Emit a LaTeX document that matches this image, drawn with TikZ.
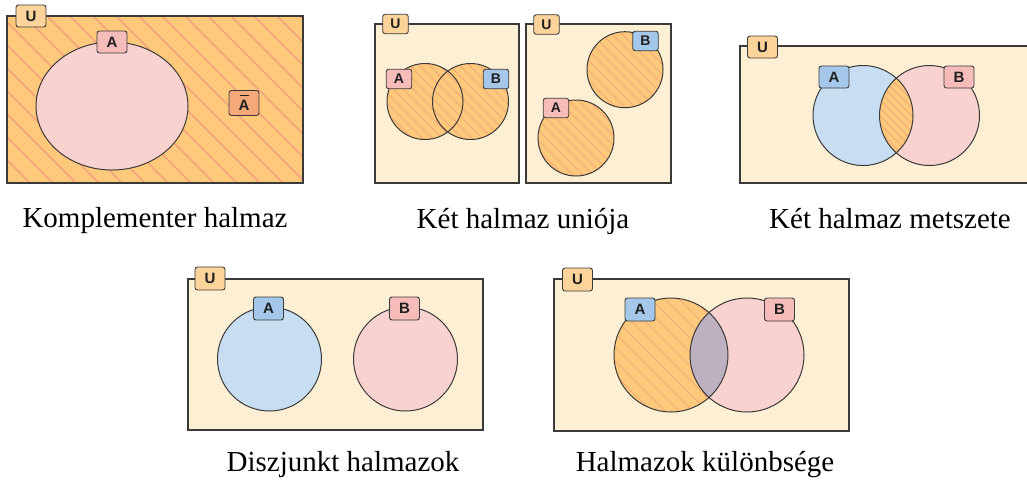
\documentclass[tikz,border=0pt]{standalone}
\usepackage{fontspec}
\setmainfont{Liberation Serif}
\newfontfamily\tabfont{Liberation Sans}
\definecolor{cream}{HTML}{FDEFD3}
\definecolor{orangef}{HTML}{FEC97A}
\definecolor{hatchc}{HTML}{F39A7E}
\definecolor{pinkf}{HTML}{F8D2CE}
\definecolor{bluef}{HTML}{C7DEF2}
\definecolor{tabpink}{HTML}{F6BCBA}
\definecolor{tabblue}{HTML}{A5C8EA}
\definecolor{tabU}{HTML}{FDD39C}
\definecolor{tabAbar}{HTML}{F5A97A}
\definecolor{grayf}{HTML}{BDB0BF}
\definecolor{edge}{HTML}{3A3A3A}
\newcommand{\hatchlines}[6]{%
  \pgfmathsetmacro{\hatchH}{#5-#3}%
  \pgfmathsetmacro{\hatchS}{#2-\hatchH}%
  \pgfmathsetmacro{\hatchN}{#2-\hatchH+#1}%
  \foreach \t in {\hatchS,\hatchN,...,#4} {\draw[hatchc,line width=#6] (\t,#3) -- ++(\hatchH,\hatchH);}%
}
\begin{document}
\begin{tikzpicture}[x=1pt,y=-1pt,
  univ/.style={draw=edge,line width=1.1pt},
  setline/.style={draw=edge,line width=1pt},
  labelbox/.style={draw=edge,line width=0.9pt,rounded corners=2.5pt,minimum width=30pt,minimum height=22pt,inner sep=0pt,text=black!88,font={\tabfont\bfseries\fontsize{15}{16}\selectfont}},
  smallbox/.style={labelbox,minimum width=25.5pt,minimum height=19.5pt,font={\tabfont\bfseries\fontsize{14}{15}\selectfont}},
  caption/.style={anchor=base,font=\fontsize{29}{34}\selectfont,inner sep=0pt}]
\useasboundingbox (0,0) rectangle (1027,480);

% ---------- Panel 1: complement ----------
\fill[orangef] (7,16) rectangle (303,183);
\begin{scope}
  \clip (7,16) rectangle (303,183);
  \hatchlines{23}{7}{16}{303}{183}{1.1pt}
\end{scope}
\draw[univ,line width=1.4pt] (7,16) rectangle (303,183);
\draw[setline,fill=pinkf] (112,106) ellipse [x radius=76pt,y radius=64pt];
\node[labelbox,fill=tabU] (u1) at (31,16) {U};
\node[labelbox,fill=tabpink] (a1) at (112,42) {A};
\node[labelbox,fill=tabAbar,minimum height=25pt,text height=14pt,text depth=0pt] (abar1) at (244,103) {A};
\draw[black!88,line width=1.1pt] ([xshift=-4.5pt,yshift=7.5pt]abar1.center) -- ++(9,0);
\node[caption] (c1) at (155,227.5) {Komplementer halmaz};

% ---------- Panel 2: union (overlapping) ----------
\fill[cream] (375,24) rectangle (519,183);
\draw[univ] (375,24) rectangle (519,183);
\fill[orangef] (425,101.5) circle[radius=38pt] (470.5,101.5) circle[radius=38pt];
\begin{scope}
  \clip (425,101.5) circle[radius=38pt] (470.5,101.5) circle[radius=38pt];
  \hatchlines{10}{385}{62}{510}{141}{0.6pt}
\end{scope}
\draw[setline] (425,101.5) circle[radius=38pt];
\draw[setline] (470.5,101.5) circle[radius=38pt];
\node[smallbox,fill=tabU] (u2) at (395.5,24) {U};
\node[smallbox,fill=tabpink] (a2) at (399,79) {A};
\node[smallbox,fill=tabblue] (b2) at (496,79) {B};

% ---------- Panel 3: union (disjoint) ----------
\fill[cream] (526,24) rectangle (671,183);
\draw[univ] (526,24) rectangle (671,183);
\fill[orangef] (625,69.7) circle[radius=38pt] (576,138) circle[radius=38pt];
\begin{scope}
  \clip (625,69.7) circle[radius=38pt] (576,138) circle[radius=38pt];
  \hatchlines{10}{536}{30}{665}{178}{0.6pt}
\end{scope}
\draw[setline] (625,69.7) circle[radius=38pt];
\draw[setline] (576,138) circle[radius=38pt];
\node[smallbox,fill=tabU] (u3) at (546.5,24.5) {U};
\node[smallbox,fill=tabblue] (b3) at (645.5,41) {B};
\node[smallbox,fill=tabpink] (a3) at (556,108) {A};
\node[caption] (c2) at (523,228) {Két halmaz uniója};

% ---------- Panel 4: intersection ----------
\fill[cream] (740,46) rectangle (1027,183);
\draw[univ] (1027,46) -- (740,46) -- (740,183) -- (1027,183);
\fill[bluef] (863,115.5) circle[radius=50pt];
\fill[pinkf] (929.5,115.5) circle[radius=50pt];
\begin{scope}
  \clip (863,115.5) circle[radius=50pt];
  \clip (929.5,115.5) circle[radius=50pt];
  \fill[orangef] (870,60) rectangle (925,170);
  \hatchlines{8}{870}{60}{925}{170}{0.55pt}
\end{scope}
\draw[setline] (863,115.5) circle[radius=50pt];
\draw[setline] (929.5,115.5) circle[radius=50pt];
\node[labelbox,fill=tabU] (u4) at (762.5,47) {U};
\node[labelbox,fill=tabblue] (a4) at (834,77) {A};
\node[labelbox,fill=tabpink] (b4) at (959,77) {B};
\node[caption] (c3) at (890,228) {Két halmaz metszete};

% ---------- Panel 5: disjoint ----------
\fill[cream] (188,279) rectangle (483,430);
\draw[univ] (188,279) rectangle (483,430);
\draw[setline,fill=bluef] (269.5,359) circle[radius=52pt];
\draw[setline,fill=pinkf] (405.5,359) circle[radius=52pt];
\node[labelbox,fill=tabU,minimum height=23pt] (u5) at (210,278.5) {U};
\node[labelbox,fill=tabblue,minimum height=23pt] (a5) at (268.5,308.5) {A};
\node[labelbox,fill=tabpink,minimum height=23pt] (b5) at (404.5,308.5) {B};
\node[caption] (c4) at (343,471) {Diszjunkt halmazok};

% ---------- Panel 6: difference ----------
\fill[cream] (554,279) rectangle (849,431);
\draw[univ] (554,279) rectangle (849,431);
\fill[orangef] (671,355) circle[radius=57pt];
\begin{scope}
  \clip (671,355) circle[radius=57pt];
  \hatchlines{14}{612}{296}{730}{414}{0.7pt}
\end{scope}
\fill[pinkf] (747,355) circle[radius=57pt];
\begin{scope}
  \clip (671,355) circle[radius=57pt];
  \fill[grayf] (747,355) circle[radius=57pt];
\end{scope}
\draw[setline] (671,355) circle[radius=57pt];
\draw[setline] (747,355) circle[radius=57pt];
\node[labelbox,fill=tabU,minimum height=23pt] (u6) at (577.5,279.5) {U};
\node[labelbox,fill=tabblue,minimum height=23pt] (a6) at (640,309.5) {A};
\node[labelbox,fill=tabpink,minimum height=23pt] (b6) at (779.5,309.5) {B};
\node[caption] (c5) at (705,471) {Halmazok különbsége};
\end{tikzpicture}
\end{document}
